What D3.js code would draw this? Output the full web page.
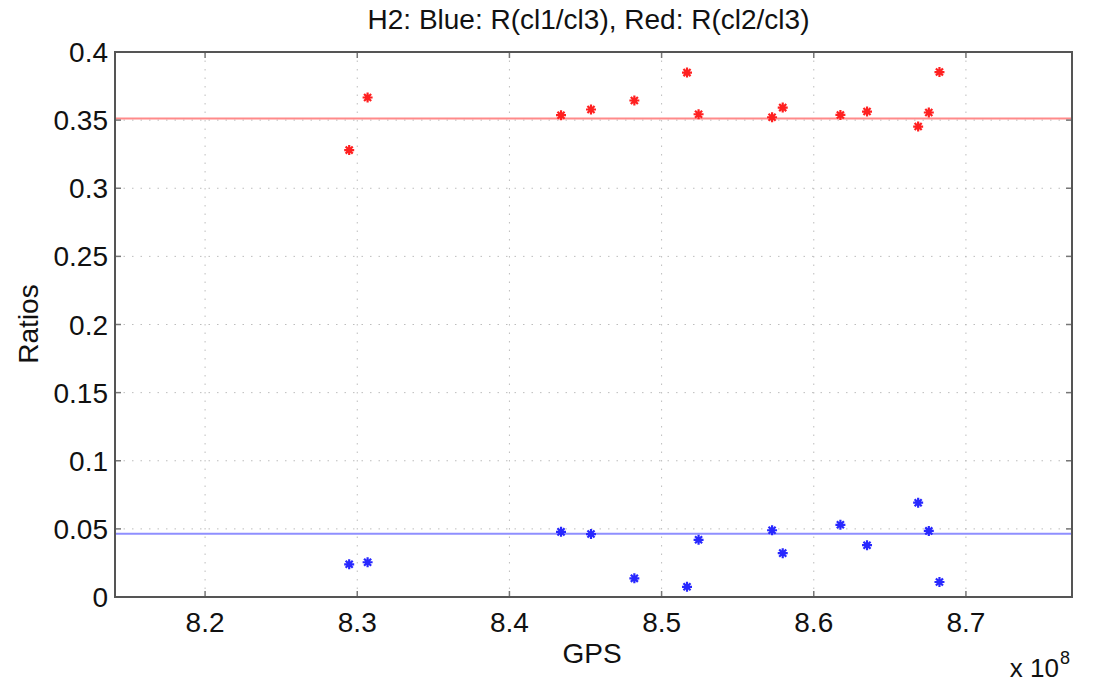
<!DOCTYPE html>
<html>
  <head>
    <meta charset="utf-8">
    <style>
      body { margin: 0; background: #fff; }
      text { font-family: "Liberation Sans", Arial, Helvetica, sans-serif; fill: #111; }
      .tick-label { font-size: 28px; }
      .title, .axis-title { font-size: 28px; }
      .grid line { stroke: #bdbdbd; stroke-width: 1; stroke-dasharray: 1.5,7; }
      .frame { fill: none; stroke: #555; stroke-width: 2; }
      .tick { stroke: #777; stroke-width: 1.5; }
    </style>
    <script src="https://d3js.org/d3.v7.min.js"></script>
  </head>
  <body>
    <div id="chart"></div>
    <script>
      // GPS times in units of 1e8
      var gps = [8.2947, 8.3068, 8.4339, 8.4536, 8.4821, 8.5167, 8.5243,
                 8.5726, 8.5796, 8.6175, 8.6350, 8.6686, 8.6756, 8.6826];
      // Blue: R(cl1/cl3)
      var blueRatios = [0.0240, 0.0255, 0.0478, 0.0462, 0.0137, 0.0075, 0.0420,
                        0.0490, 0.0322, 0.0530, 0.0380, 0.0692, 0.0485, 0.0110];
      // Red: R(cl2/cl3)
      var redRatios = [0.3280, 0.3666, 0.3536, 0.3578, 0.3644, 0.3849, 0.3543,
                       0.3521, 0.3592, 0.3538, 0.3563, 0.3453, 0.3556, 0.3853];
      var blueLevel = 0.0465;
      var redLevel = 0.3512;
      var xTicks = [8.2, 8.3, 8.4, 8.5, 8.6, 8.7];
      var yTicks = [0, 0.05, 0.1, 0.15, 0.2, 0.25, 0.3, 0.35, 0.4];

      var W = 1114, H = 687,
          margin = { top: 52, right: 42, bottom: 90, left: 115 },
          width = W - margin.left - margin.right,
          height = H - margin.top - margin.bottom;

      var svg = d3.select("#chart").append("svg")
          .attr("width", W)
          .attr("height", H);

      var g = svg.append("g")
          .attr("transform", "translate(" + margin.left + "," + margin.top + ")");

      var x = d3.scaleLinear().domain([8.1408, 8.7697]).range([0, width]);
      var y = d3.scaleLinear().domain([0, 0.4]).range([height, 0]);

      // grid
      var grid = g.append("g").attr("class", "grid");
      grid.selectAll(".vg").data(xTicks).enter().append("line")
          .attr("x1", d => x(d)).attr("x2", d => x(d))
          .attr("y1", 0).attr("y2", height);
      grid.selectAll(".hg").data(yTicks.slice(1, -1)).enter().append("line")
          .attr("x1", 0).attr("x2", width)
          .attr("y1", d => y(d)).attr("y2", d => y(d));

      // mean levels
      g.append("line")
          .attr("x1", 0).attr("x2", width)
          .attr("y1", y(redLevel)).attr("y2", y(redLevel))
          .style("stroke", "#ff8a8a").style("stroke-width", 2);
      g.append("line")
          .attr("x1", 0).attr("x2", width)
          .attr("y1", y(blueLevel)).attr("y2", y(blueLevel))
          .style("stroke", "#8f8fff").style("stroke-width", 2);

      // asterisk marker with 4 strokes, like matlab '*'
      var star = {
        draw: function(ctx, size) {
          var r = Math.sqrt(size) / 2, d = r * 0.7071;
          ctx.moveTo(-r, 0); ctx.lineTo(r, 0);
          ctx.moveTo(0, -r); ctx.lineTo(0, r);
          ctx.moveTo(-d, -d); ctx.lineTo(d, d);
          ctx.moveTo(-d, d); ctx.lineTo(d, -d);
        }
      };
      var sym = d3.symbol().type(star).size(100);

      function drawSeries(vals, color) {
        g.selectAll(null).data(gps).enter().append("path")
            .attr("d", sym)
            .attr("transform", (d, i) => "translate(" + x(d) + "," + y(vals[i]) + ")")
            .style("fill", "none")
            .style("stroke", color)
            .style("stroke-width", 2.2);
      }
      drawSeries(redRatios, "#ff2020");
      drawSeries(blueRatios, "#2828ff");

      // ticks on all four sides (pointing inward)
      var tl = 6;
      g.selectAll(".xb").data(xTicks).enter().append("line").attr("class", "tick")
          .attr("x1", d => x(d)).attr("x2", d => x(d)).attr("y1", height).attr("y2", height - tl);
      g.selectAll(".xt").data(xTicks).enter().append("line").attr("class", "tick")
          .attr("x1", d => x(d)).attr("x2", d => x(d)).attr("y1", 0).attr("y2", tl);
      g.selectAll(".yl").data(yTicks).enter().append("line").attr("class", "tick")
          .attr("x1", 0).attr("x2", tl).attr("y1", d => y(d)).attr("y2", d => y(d));
      g.selectAll(".yr").data(yTicks).enter().append("line").attr("class", "tick")
          .attr("x1", width).attr("x2", width - tl).attr("y1", d => y(d)).attr("y2", d => y(d));

      g.append("rect").attr("class", "frame")
          .attr("x", 0).attr("y", 0).attr("width", width).attr("height", height);

      // tick labels
      g.selectAll(".xl").data(xTicks).enter().append("text")
          .attr("class", "tick-label")
          .attr("x", d => x(d)).attr("y", height + 35)
          .style("text-anchor", "middle")
          .text(d => d3.format(".1f")(d));
      g.selectAll(".ylab").data(yTicks).enter().append("text")
          .attr("class", "tick-label")
          .attr("x", -7).attr("y", d => y(d) + 10)
          .style("text-anchor", "end")
          .text(d => d3.format("")(d));

      // titles
      svg.append("text").attr("class", "title")
          .attr("x", margin.left + width / 2 - 5).attr("y", 29)
          .style("text-anchor", "middle")
          .text("H2: Blue: R(cl1/cl3), Red: R(cl2/cl3)");
      svg.append("text").attr("class", "axis-title")
          .attr("x", 592).attr("y", 663)
          .style("text-anchor", "middle")
          .text("GPS");
      svg.append("text").attr("class", "axis-title")
          .attr("transform", "translate(38,324) rotate(-90)")
          .style("text-anchor", "middle")
          .text("Ratios");
      svg.append("text").attr("class", "axis-title")
          .attr("x", 1059).attr("y", 677)
          .style("text-anchor", "end")
          .style("font-size", "26px")
          .text("x 10");
      svg.append("text")
          .attr("x", 1060).attr("y", 664)
          .style("font-size", "18px")
          .text("8");
    </script>
  </body>
</html>
